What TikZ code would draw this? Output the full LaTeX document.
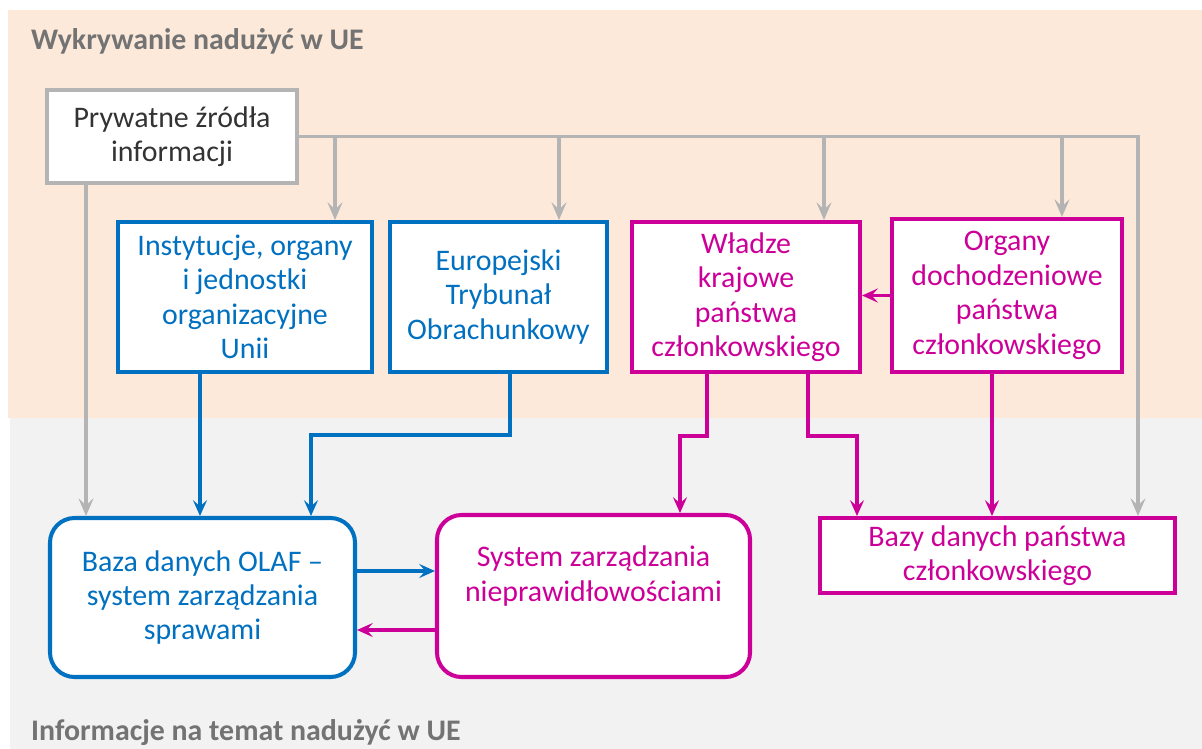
\documentclass[tikz,border=0pt]{standalone}
\usepackage{fontspec}
\setmainfont{Carlito}
\usetikzlibrary{arrows.meta}
\definecolor{eublue}{HTML}{0070C0}
\definecolor{eumag}{HTML}{CC0099}
\definecolor{lgray}{HTML}{B4B4B4}
\definecolor{peach}{HTML}{FCE9DA}
\definecolor{pale}{HTML}{F2F2F2}
\definecolor{headgray}{HTML}{737373}

\begin{document}
\begin{tikzpicture}[
  box/.style={rectangle,draw,line width=2.3pt,fill=white,align=center,inner sep=2pt,
    font=\fontsize{17}{19.6}\selectfont},
  graybox/.style={box,draw=lgray,text=black!80},
  bluebox/.style={box,draw=eublue,text=eublue},
  magbox/.style={box,draw=eumag,text=eumag},
  roundbox/.style={rounded corners=14pt},
  sectitle/.style={font=\fontsize{17}{19}\selectfont\bfseries,text=headgray,anchor=west},
  grayarrow/.style={-{Stealth[length=10pt,width=8.5pt,inset=4pt]},line width=2pt,lgray},
  bluearrow/.style={-{Stealth[length=9pt,width=8pt,inset=3.5pt]},line width=1.8pt,eublue},
  magarrow/.style={-{Stealth[length=9pt,width=8pt,inset=3.5pt]},line width=1.8pt,eumag},
]

\useasboundingbox (0,0) rectangle (24.04,-14.98);

% Background bands
\fill[peach] (0.16,-0.20) rectangle (24.04,-8.36);
\fill[pale] (0.20,-8.36) rectangle (24.04,-14.98);
\node[sectitle] (top) at (0.50,-0.82) {Wykrywanie nadużyć w UE};
\node[sectitle] (bottom) at (0.50,-14.66) {Informacje na temat nadużyć w UE};

% Sources
\node[graybox,minimum width=5.0cm,minimum height=1.86cm] (priv) at (3.44,-2.73)
  {Prywatne źródła\\informacji};
\node[bluebox,minimum width=5.08cm,minimum height=3.0cm] (inst) at (4.90,-5.94)
  {Instytucje, organy\\i jednostki\\organizacyjne\\Unii};
\node[bluebox,minimum width=4.34cm,minimum height=3.0cm] (etk) at (9.97,-5.94)
  {Europejski\\Trybunał\\Obrachunkowy};
\node[magbox,minimum width=4.56cm,minimum height=3.0cm] (wladze) at (14.92,-5.94)
  {Władze\\krajowe\\państwa\\członkowskiego};
\node[magbox,minimum width=4.6cm,minimum height=3.06cm] (organy) at (20.14,-5.91)
  {Organy\\dochodzeniowe\\państwa\\członkowskiego};

% Databases
\node[bluebox,roundbox,minimum width=6.1cm,minimum height=3.18cm] (olaf) at (4.05,-11.95)
  {Baza danych OLAF --\\system zarządzania\\sprawami};
\node[magbox,roundbox,minimum width=6.26cm,minimum height=3.24cm] (sysnp) at (11.87,-11.92)
  {System zarządzania\\nieprawidłowościami\\\strut};
\node[magbox,minimum width=7.1cm,minimum height=1.5cm] (bazy) at (19.95,-11.11)
  {Bazy danych państwa\\członkowskiego};

% Private sources feed everybody
\coordinate (trunk) at (22.76,-2.73);
\draw[grayarrow] (priv.east) -- (trunk) -- (trunk |- bazy.north);
\coordinate (g1) at (6.70,-2.73);
\coordinate (g2) at (11.18,-2.73);
\coordinate (g3) at (16.48,-2.73);
\coordinate (g4) at (21.24,-2.73);
\draw[grayarrow] (g1) -- (g1 |- inst.north);
\draw[grayarrow] (g2) -- (g2 |- etk.north);
\draw[grayarrow] (g3) -- (g3 |- wladze.north);
\draw[grayarrow] (g4) -- (g4 |- organy.north);
\coordinate (g0) at (1.72,0);
\draw[grayarrow] (g0 |- priv.south) -- (g0 |- olaf.north);

% EU bodies into OLAF
\coordinate (b1) at (4.00,0);
\draw[bluearrow] (b1 |- inst.south) -- (b1 |- olaf.north);
\coordinate (b2) at (10.20,-8.70);
\coordinate (b3) at (6.22,-8.70);
\draw[bluearrow] (b2 |- etk.south) -- (b2) -- (b3) -- (b3 |- olaf.north);

% OLAF <-> irregularity system
\coordinate (x1) at (0,-11.42);
\coordinate (x2) at (0,-12.60);
\draw[bluearrow] (olaf.east |- x1) -- (sysnp.west |- x1);
\draw[magarrow] (sysnp.west |- x2) -- (olaf.east |- x2);

% National side
\draw[magarrow] (organy.west) -- (organy.west -| wladze.east);
\coordinate (m1) at (14.14,-8.72);
\coordinate (m2) at (13.60,-8.72);
\draw[magarrow] (m1 |- wladze.south) -- (m1) -- (m2) -- (m2 |- sysnp.north);
\coordinate (m3) at (16.16,-8.72);
\coordinate (m4) at (17.14,-8.72);
\draw[magarrow] (m3 |- wladze.south) -- (m3) -- (m4) -- (m4 |- bazy.north);
\coordinate (m5) at (19.84,0);
\draw[magarrow] (m5 |- organy.south) -- (m5 |- bazy.north);

\end{tikzpicture}
\end{document}
